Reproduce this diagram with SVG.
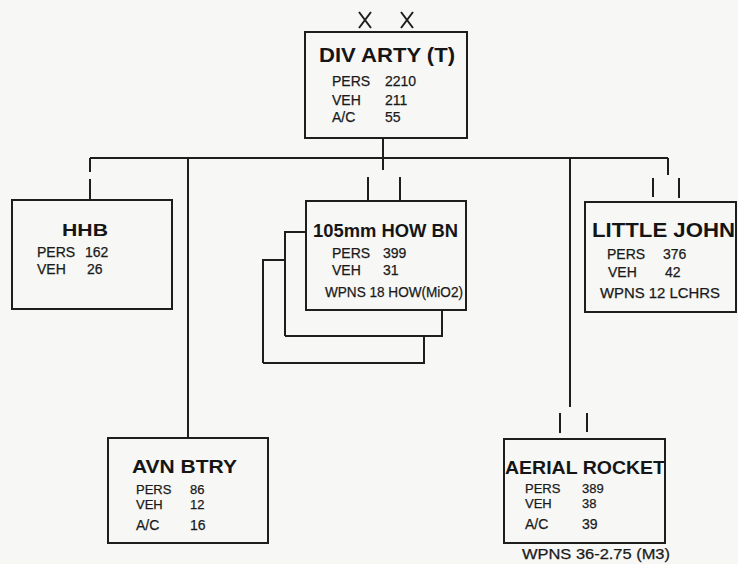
<svg xmlns="http://www.w3.org/2000/svg" width="738" height="564" viewBox="0 0 738 564">
<style>
.bg{fill:#f7f7f5}
.box{fill:#f7f7f5;stroke:#1e1e1e;stroke-width:2}
.ln{fill:none;stroke:#1e1e1e;stroke-width:2}
.t{font-family:"Liberation Sans",Arial,sans-serif;font-weight:bold;fill:#151515}
.s{font-family:"Liberation Sans",Arial,sans-serif;font-size:14px;fill:#1a1a1a;stroke:#1a1a1a;stroke-width:0.25}
.c{font-size:13px}
</style>
<rect class="bg" x="0" y="0" width="738" height="564"/>
<g id="connectors">
<path class="ln" d="M359 12 L371 28 M371 12 L359 28 M401 12 L413 28 M413 12 L401 28"/>
<path class="ln" d="M383 138 V170 M90 158 H668 M90 158 V172 M90 179 V200 M188 158 V438 M570 158 V407 M668 158 V175"/>
<path class="ln" d="M368 177 V201 M400 177 V201 M653 178 V197 M679 178 V198 M560 413 V433 M587 413 V432"/>
</g>
<g id="div-arty">
<rect class="box" x="305" y="32" width="162" height="106"/>
<text class="t" x="319" y="62" font-size="20" textLength="136" lengthAdjust="spacingAndGlyphs">DIV ARTY (T)</text>
<text class="s" x="332" y="86">PERS</text><text class="s" x="385" y="86">2210</text>
<text class="s" x="332" y="105">VEH</text><text class="s" x="385" y="105">211</text>
<text class="s" x="332" y="122">A/C</text><text class="s" x="385" y="122">55</text>
</g>
<g id="hhb">
<rect class="box" x="12" y="200" width="160" height="109"/>
<text class="t" x="62" y="236" font-size="17" textLength="46" lengthAdjust="spacingAndGlyphs">HHB</text>
<text class="s" x="37" y="257">PERS</text><text class="s" x="85" y="257">162</text>
<text class="s" x="37" y="274">VEH</text><text class="s" x="87" y="274">26</text>
</g>
<g id="how-bn">
<path class="ln" d="M263 363 V260 H285 M263 363 H424 V336"/>
<path class="ln" d="M285 336 V232 H306 M285 336 H442 V310"/>
<rect class="box" x="306" y="201" width="160" height="109"/>
<text class="t" x="313" y="237" font-size="18" textLength="145" lengthAdjust="spacingAndGlyphs">105mm HOW BN</text>
<text class="s" x="332" y="258">PERS</text><text class="s" x="383" y="258">399</text>
<text class="s" x="332" y="275">VEH</text><text class="s" x="383" y="275">31</text>
<text class="s" x="325" y="297" font-size="13" textLength="138" lengthAdjust="spacingAndGlyphs">WPNS 18 HOW(MiO2)</text>
</g>
<g id="little-john">
<rect class="box" x="585" y="202" width="151" height="110"/>
<text class="t" x="592" y="237" font-size="20" textLength="143" lengthAdjust="spacingAndGlyphs">LITTLE JOHN</text>
<text class="s" x="607" y="259">PERS</text><text class="s" x="663" y="259">376</text>
<text class="s" x="608" y="277">VEH</text><text class="s" x="665" y="277">42</text>
<text class="s" x="600" y="298" font-size="13" textLength="120" lengthAdjust="spacingAndGlyphs">WPNS 12 LCHRS</text>
</g>
<g id="avn-btry">
<rect class="box" x="108" y="438" width="160" height="105"/>
<text class="t" x="132" y="473" font-size="18" textLength="105" lengthAdjust="spacingAndGlyphs">AVN BTRY</text>
<text class="s c" x="136" y="494">PERS</text><text class="s c" x="190" y="494">86</text>
<text class="s c" x="136" y="509">VEH</text><text class="s c" x="190" y="509">12</text>
<text class="s" x="136" y="530">A/C</text><text class="s" x="190" y="530">16</text>
</g>
<g id="aerial-rocket">
<rect class="box" x="504" y="439" width="161" height="104"/>
<text class="t" x="505" y="474" font-size="19" textLength="160" lengthAdjust="spacingAndGlyphs">AERIAL ROCKET</text>
<text class="s c" x="525" y="493">PERS</text><text class="s c" x="582" y="493">389</text>
<text class="s c" x="525" y="508">VEH</text><text class="s c" x="582" y="508">38</text>
<text class="s" x="525" y="529">A/C</text><text class="s" x="582" y="529">39</text>
<text class="s" x="522" y="559" font-size="13" textLength="148" lengthAdjust="spacingAndGlyphs">WPNS 36-2.75 (M3)</text>
</g>
</svg>
